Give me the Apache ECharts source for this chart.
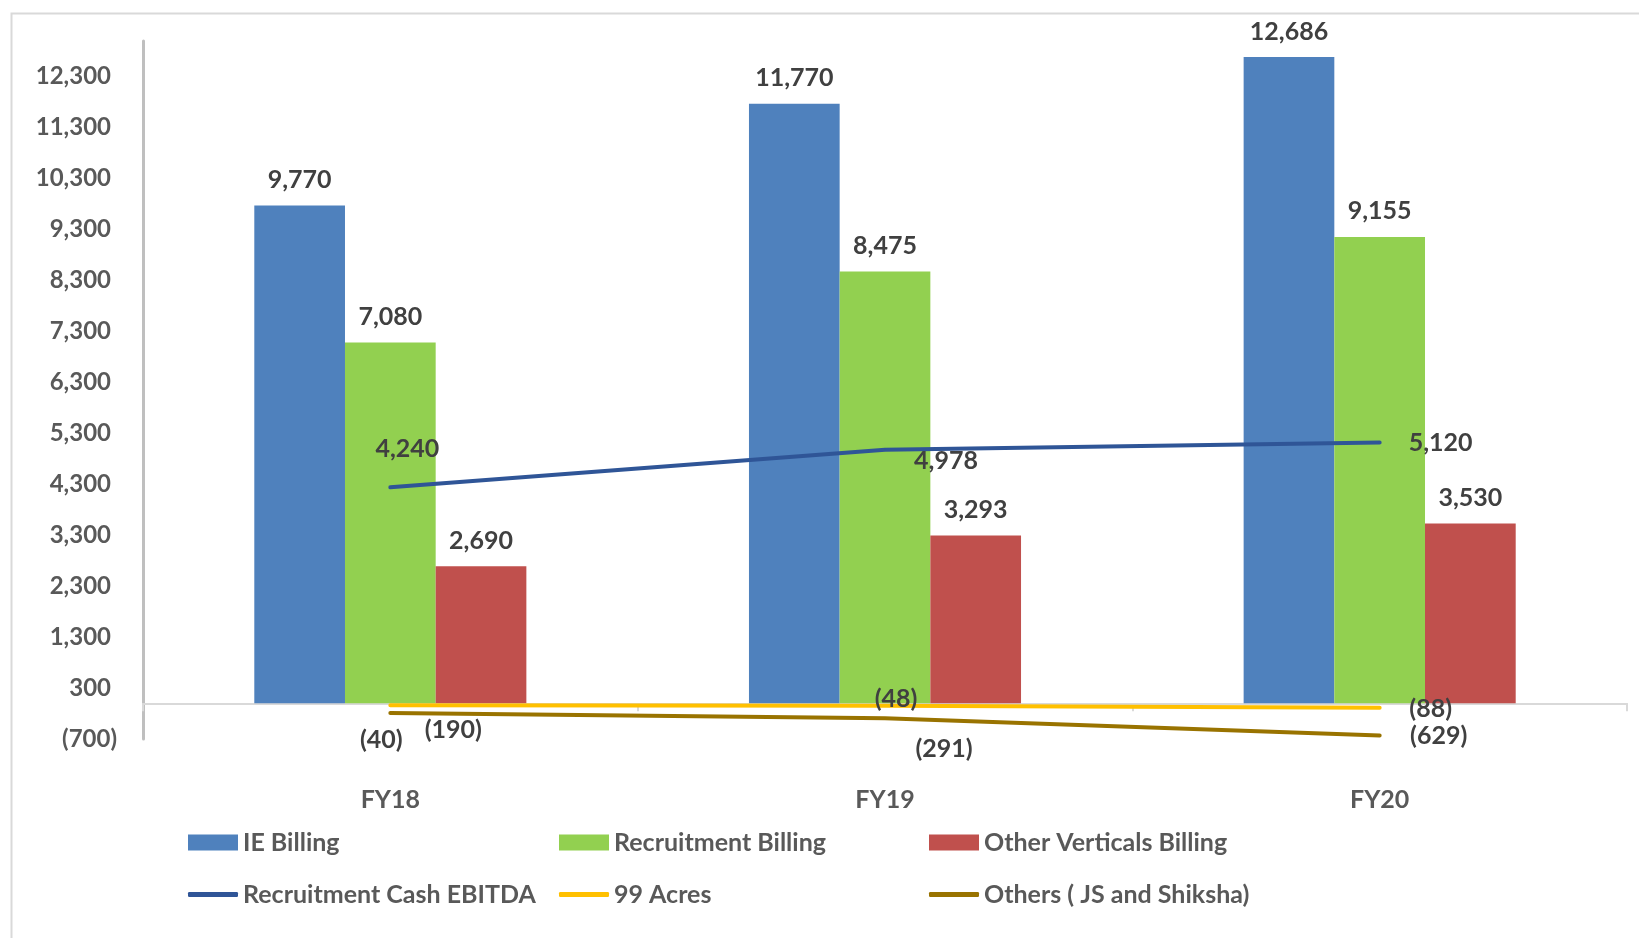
<!DOCTYPE html>
<html>
<head>
    <meta http-equiv="content-type" content="text/html;charset=utf-8">
    <script src="https://cdn.jsdelivr.net/npm/echarts@6/dist/echarts.min.js"></script>
    <style>
        html, body { margin: 0; padding: 0; background: #fff; }
        #chart { width: 1639px; height: 938px; }
    </style>
</head>
<body>
<div id="chart"></div>

<script type="text/javascript">
    // data
    var categories = ['FY18', 'FY19', 'FY20'];
    var ieBilling = [9770, 11770, 12686];
    var recruitmentBilling = [7080, 8475, 9155];
    var otherVerticalsBilling = [2690, 3293, 3530];
    var recruitmentEbitda = [4240, 4978, 5120];
    var acres99 = [-40, -48, -88];
    var othersJsShiksha = [-190, -291, -629];

    // label offsets for the line values (px, from the point)
    var ebitdaOffsets = [[17, -38], [61, 11], [61, 0]];
    var acresOffsets = [[-9, 35], [11, -7], [51, 1]];
    var othersOffsets = [[63, 17], [59, 31], [59, 1]];

    var FONT = 'Lato';
    var labelColor = '#404040';
    var axisColor = '#595959';

    function fmt(v) {
        var s = Math.abs(v).toLocaleString('en-US');
        return v < 0 ? '(' + s + ')' : s;
    }

    function lineData(values, offsets) {
        var out = [];
        for (var i = 0; i < values.length; i++) {
            out.push({ value: values[i], label: { offset: offsets[i] } });
        }
        return out;
    }

    function barSeries(name, data, color) {
        return {
            name: name,
            type: 'bar',
            data: data,
            barGap: '0%',
            barCategoryGap: '45%',
            itemStyle: { color: color },
            label: {
                show: true,
                position: 'top',
                distance: 13,
                fontFamily: FONT,
                fontWeight: 'bold',
                fontSize: 25,
                color: labelColor,
                formatter: function (p) { return fmt(p.value); }
            }
        };
    }

    function lineSeries(name, data, color) {
        return {
            name: name,
            type: 'line',
            data: data,
            symbol: 'circle',
            symbolSize: 2,
            showSymbol: true,
            itemStyle: { color: color },
            lineStyle: { color: color, width: 4, cap: 'round' },
            label: {
                show: true,
                position: 'inside',
                fontFamily: FONT,
                fontWeight: 'bold',
                fontSize: 25,
                color: labelColor,
                formatter: function (p) { return fmt(p.value); }
            },
            z: 5
        };
    }

    function legendItem(name, left, top, isLine) {
        return {
            data: [name],
            left: left,
            top: top,
            padding: 0,
            itemWidth: 50,
            itemHeight: isLine ? 5 : 16,
            icon: isLine ? 'roundRect' : 'rect',
            itemGap: 0,
            selectedMode: false,
            textStyle: {
                fontFamily: FONT,
                fontWeight: 'bold',
                fontSize: 25,
                color: axisColor
            }
        };
    }

    var yLabelFont = {
        fontFamily: FONT,
        fontWeight: 'bold',
        fontSize: 24,
        color: axisColor
    };

    var myChart = echarts.init(document.getElementById('chart'));

    var option = {
        backgroundColor: '#fff',
        animation: false,
        graphic: [{
            type: 'rect',
            left: 9,
            top: 11,
            shape: { width: 1700, height: 1000 },
            style: { fill: 'none', stroke: '#d9d9d9', lineWidth: 2 },
            z: -10
        }],
        grid: {
            left: 143,
            right: 12,
            top: 41,
            bottom: 199
        },
        legend: [
            legendItem('IE Billing', 188, 830, false),
            legendItem('Recruitment Billing', 559, 830, false),
            legendItem('Other Verticals Billing', 929, 830, false),
            legendItem('Recruitment Cash EBITDA', 188, 882, true),
            legendItem('99 Acres', 559, 882, true),
            legendItem('Others ( JS and Shiksha)', 929, 882, true)
        ],
        xAxis: [
            {
                type: 'category',
                data: categories,
                position: 'bottom',
                axisLine: { show: false, onZero: false },
                axisTick: { show: false },
                axisLabel: {
                    margin: 48,
                    fontFamily: FONT,
                    fontWeight: 'bold',
                    fontSize: 25,
                    color: axisColor
                }
            },
            {
                type: 'category',
                data: categories,
                position: 'top',
                axisLine: { show: true, onZero: true, lineStyle: { color: '#d9d9d9', width: 2 } },
                axisTick: { show: true, inside: true, length: 8, lineStyle: { color: '#d9d9d9', width: 2 } },
                axisLabel: { show: false }
            }
        ],
        yAxis: {
            type: 'value',
            min: -700,
            max: 13000,
            interval: 1000,
            splitLine: { show: false },
            axisTick: { show: false },
            axisLine: { show: true, lineStyle: { color: '#bfbfbf', width: 3 } },
            axisLabel: {
                showMaxLabel: false,
                margin: 26,
                fontFamily: FONT,
                fontWeight: 'bold',
                fontSize: 24,
                color: axisColor,
                formatter: function (v) {
                    return v < 0 ? '{n|' + fmt(v) + '}' : '{p|' + fmt(v) + '}';
                },
                rich: {
                    p: Object.assign({ padding: [0, 6, 0, 0] }, yLabelFont),
                    n: yLabelFont
                }
            }
        },
        series: [
            barSeries('IE Billing', ieBilling, '#4f81bd'),
            barSeries('Recruitment Billing', recruitmentBilling, '#92d050'),
            barSeries('Other Verticals Billing', otherVerticalsBilling, '#c0504d'),
            lineSeries('Recruitment Cash EBITDA', lineData(recruitmentEbitda, ebitdaOffsets), '#2f5597'),
            lineSeries('99 Acres', lineData(acres99, acresOffsets), '#ffc000'),
            lineSeries('Others ( JS and Shiksha)', lineData(othersJsShiksha, othersOffsets), '#997300')
        ]
    };

    myChart.setOption(option);
</script>

</body>
</html>
